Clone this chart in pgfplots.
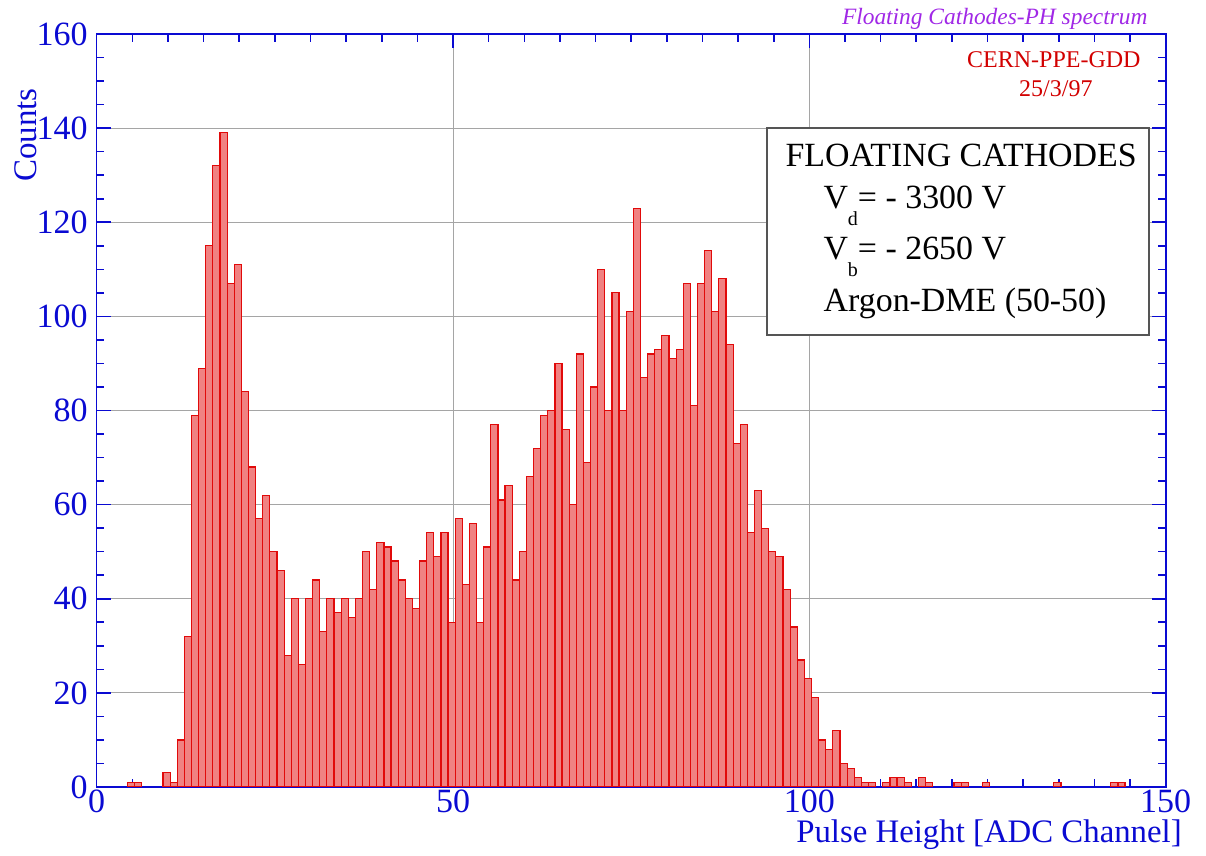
\documentclass[border=0pt]{standalone}
\usepackage{fontspec}
\setmainfont{Liberation Serif}
\usepackage{pgfplots}
\pgfplotsset{compat=1.18}

\definecolor{axblue}{RGB}{10,10,210}
\definecolor{barfill}{RGB}{240,130,130}
\definecolor{barline}{RGB}{225,10,10}
\definecolor{titlev}{RGB}{160,40,230}
\definecolor{cernred}{RGB}{210,0,0}
\definecolor{gridgray}{RGB}{165,165,165}
\definecolor{boxgray}{RGB}{85,85,85}

\begin{document}
\begin{tikzpicture}
\path[use as bounding box] (-48.35pt,-34.5pt) rectangle (554.65pt,393.5pt);
\begin{axis}[
 at={(0pt,0pt)}, anchor=south west,
 scale only axis, width=534.5pt, height=376.5pt,
 xmin=0, xmax=150, ymin=0, ymax=160,
 xtick={0,50,100,150}, minor xtick={5,10,...,145},
 ytick={0,20,...,160}, minor ytick={5,10,...,155},
 tick align=inside, major tick length=7pt, minor tick length=3.8pt,
 xmajorgrids, ymajorgrids,
 grid style={gridgray, line width=0.5pt},
 axis line style={axblue, line width=0.8pt},
 tick style={axblue, line width=0.8pt},
 ticklabel style={font=\fontsize{17}{17}\selectfont, text=axblue},
 /pgf/number format/assume math mode=true,
 xticklabel style={yshift=2pt},
 yticklabel style={xshift=-1pt},
]
\addplot[ybar, bar width=1, bar shift=0pt, fill=barfill, draw=barline, line width=0.6pt]
coordinates {
(4.8,1) (5.8,1) (9.8,3) (10.8,1) (11.8,10) (12.8,32) (13.8,79) (14.8,89)
(15.8,115) (16.8,132) (17.8,139) (18.8,107) (19.8,111) (20.8,84) (21.8,68)
(22.8,57) (23.8,62) (24.8,50) (25.8,46) (26.8,28) (27.8,40) (28.8,26)
(29.8,40) (30.8,44) (31.8,33) (32.8,40) (33.8,37) (34.8,40) (35.8,36)
(36.8,40) (37.8,50) (38.8,42) (39.8,52) (40.8,51) (41.8,48) (42.8,44)
(43.8,40) (44.8,38) (45.8,48) (46.8,54) (47.8,49) (48.8,54) (49.8,35)
(50.8,57) (51.8,43) (52.8,56) (53.8,35) (54.8,51) (55.8,77) (56.8,61)
(57.8,64) (58.8,44) (59.8,50) (60.8,66) (61.8,72) (62.8,79) (63.8,80)
(64.8,90) (65.8,76) (66.8,60) (67.8,92) (68.8,69) (69.8,85) (70.8,110)
(71.8,80) (72.8,105) (73.8,80) (74.8,101) (75.8,123) (76.8,87) (77.8,92)
(78.8,93) (79.8,96) (80.8,91) (81.8,93) (82.8,107) (83.8,81) (84.8,107)
(85.8,114) (86.8,101) (87.8,108) (88.8,94) (89.8,73) (90.8,77) (91.8,54)
(92.8,63) (93.8,55) (94.8,50) (95.8,49) (96.8,42) (97.8,34) (98.8,27)
(99.8,23) (100.8,19) (101.8,10) (102.8,8) (103.8,12) (104.8,5) (105.8,4)
(106.8,2) (107.8,1) (108.8,1) (110.8,1) (111.8,2) (112.8,2) (113.8,1)
(115.8,2) (116.8,1) (120.8,1) (121.8,1) (124.8,1) (134.8,1) (142.8,1) (143.8,1)
};
\end{axis}
% annotations
\node[anchor=base east, inner sep=0pt, text=titlev, font=\fontsize{11.7}{12}\selectfont\itshape] at (525.6pt,381pt) {Floating Cathodes-PH spectrum};
\node[anchor=base, inner sep=0pt, text=cernred, font=\fontsize{12}{12}\selectfont] at (478.6pt,359.5pt) {CERN-PPE-GDD};
\node[anchor=base, inner sep=0pt, text=cernred, font=\fontsize{12}{12}\selectfont] at (479.6pt,345pt) {25/3/97};
\filldraw[fill=white, draw=boxgray, line width=0.8pt] (335.2pt,226pt) rectangle (526.2pt,329.5pt);
\node[anchor=base west, inner sep=0pt, font=\fontsize{16.95}{17}\selectfont] at (344.2pt,310.2pt) {FLOATING CATHODES};
\node[anchor=base west, inner sep=0pt, font=\fontsize{16.95}{17}\selectfont] at (363.2pt,289.4pt) {V\raisebox{-8.5pt}{\fontsize{10}{10}\selectfont d}= - 3300 V};
\node[anchor=base west, inner sep=0pt, font=\fontsize{16.95}{17}\selectfont] at (363.2pt,263.9pt) {V\raisebox{-8.5pt}{\fontsize{10}{10}\selectfont b}= - 2650 V};
\node[anchor=base west, inner sep=0pt, font=\fontsize{16.95}{17}\selectfont] at (363.3pt,237.7pt) {Argon-DME (50-50)};
\node[anchor=base east, inner sep=0pt, text=axblue, font=\fontsize{16.4}{17}\selectfont] at (542.7pt,-28pt) {Pulse Height [ADC Channel]};
\node[anchor=base east, rotate=90, inner sep=0pt, text=axblue, font=\fontsize{16.5}{17}\selectfont] at (-30pt,349.5pt) {Counts};
\end{tikzpicture}
\end{document}
